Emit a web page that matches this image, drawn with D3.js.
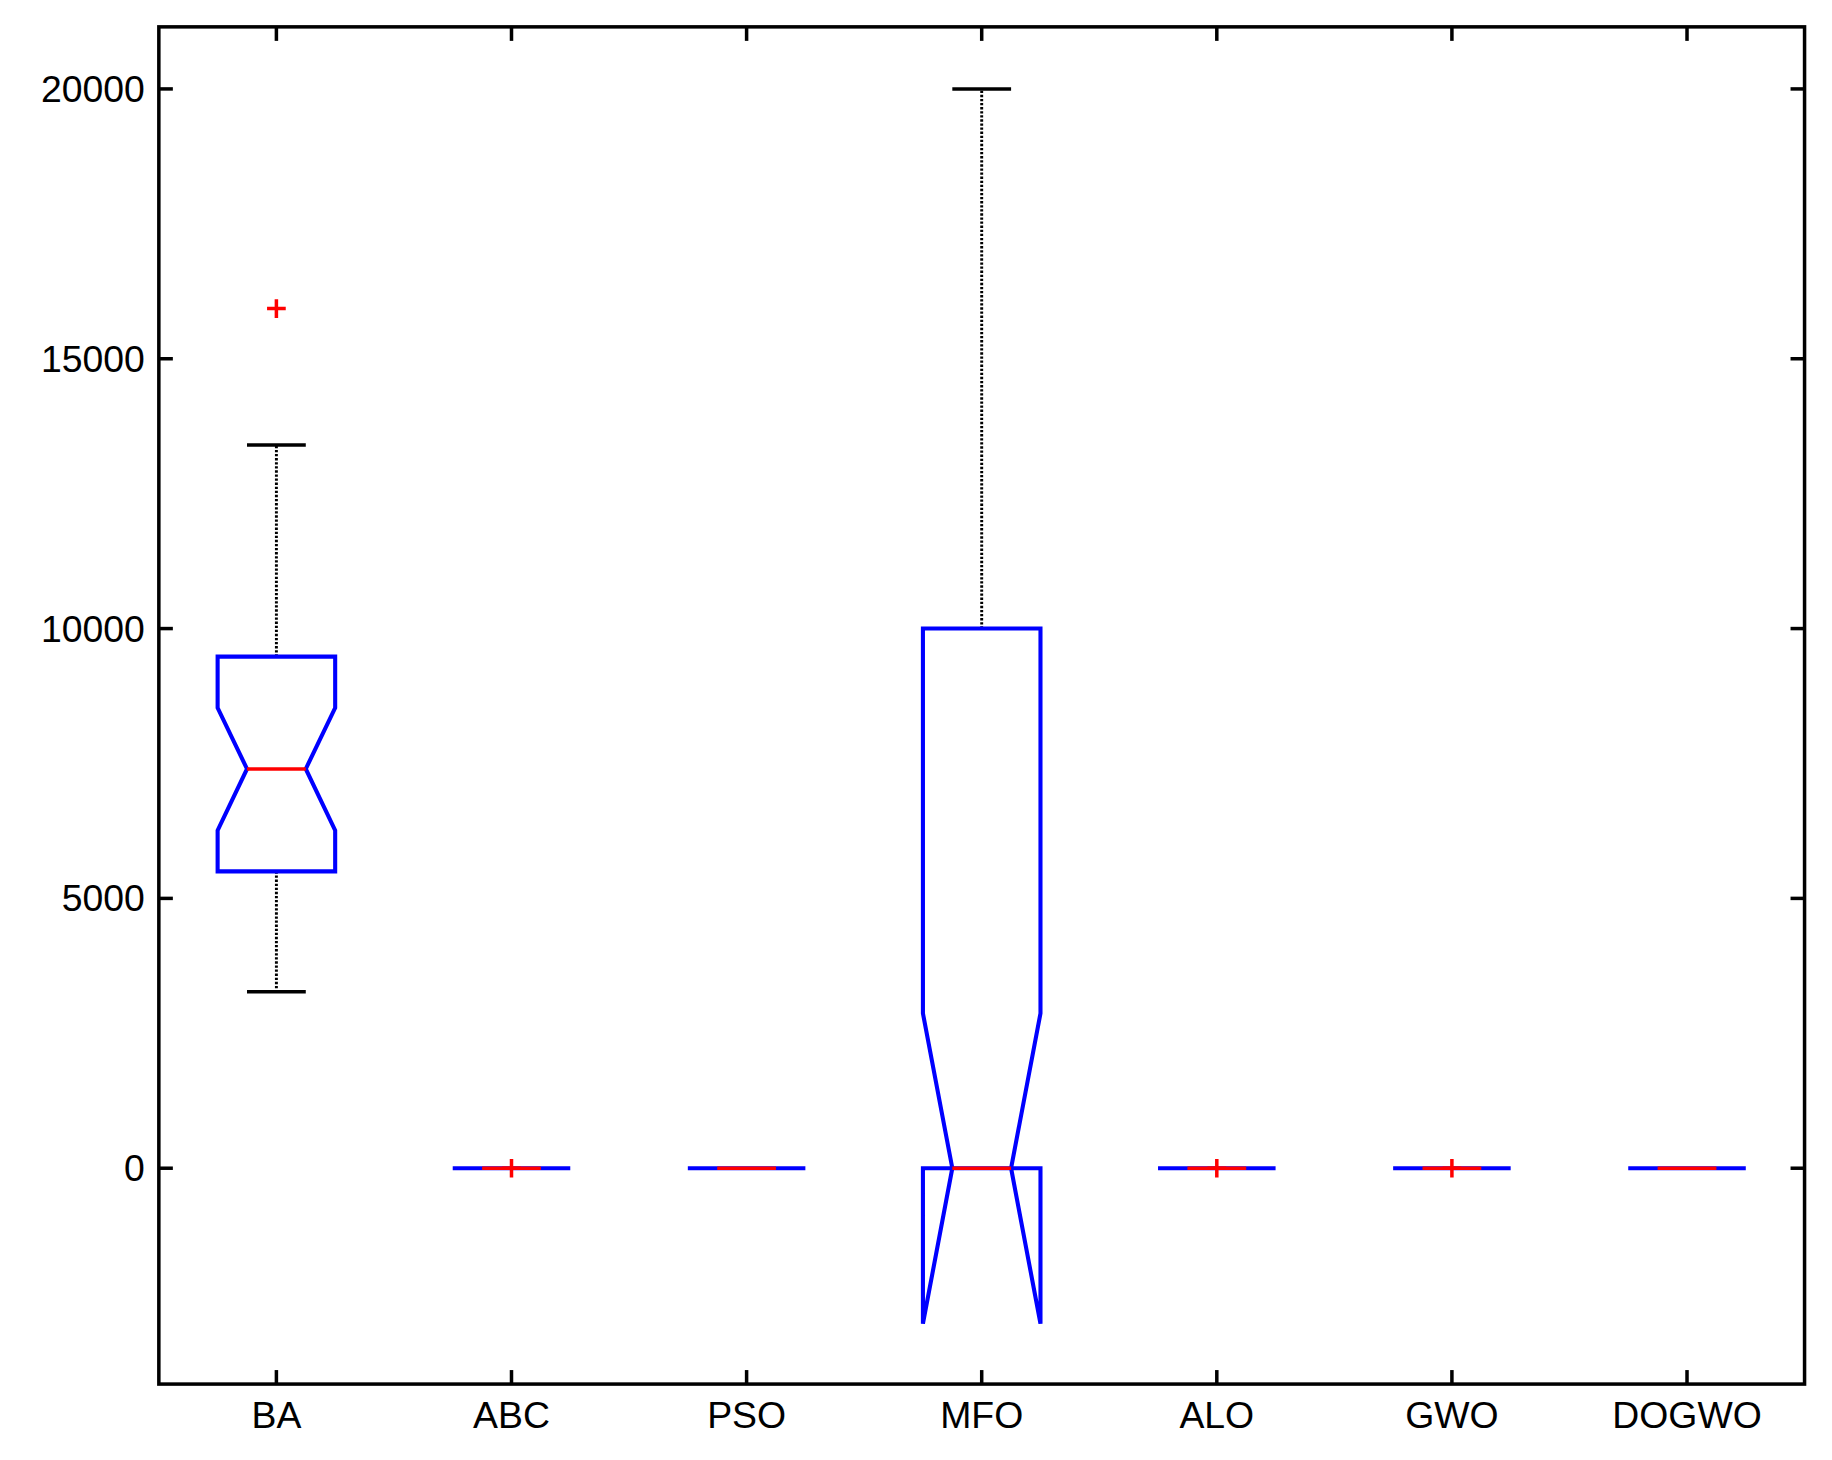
<!DOCTYPE html><html><head><meta charset="utf-8"><script src="https://cdn.jsdelivr.net/npm/d3@7"></script>
<style>body{margin:0;background:#fff}</style></head><body><svg id="c"></svg><script>
const categories=["BA","ABC","PSO","MFO","ALO","GWO","DOGWO"];
const q1=[5500,0,0,0,0,0,0];
const med=[7400,0,0,0,0,0,0];
const q3=[9480,0,0,10000,0,0,0];
const notchLo=[6260,0,0,-2880,0,0,0];
const notchHi=[8530,0,0,2870,0,0,0];
const whiskLo=[3270,0,0,0,0,0,0];
const whiskHi=[13400,0,0,20000,0,0,0];
const outliers=[[15930],[0],[],[],[0],[0],[]];
const yTicks=[0,5000,10000,15000,20000];
const W=1560,H=1250,L=136,R=1545,T=23,B=1185;
const svg=d3.select("#c").attr("width",1832).attr("height",1460).attr("viewBox",`0 0 ${W} ${H}`).attr("preserveAspectRatio","xMinYMin meet");
const x=d3.scaleLinear().domain([0.5,7.5]).range([L,R]);
const y=d3.scaleLinear().domain([-4000,21150]).range([B,T]);
const bw=0.25,nw=0.125;
categories.forEach((c,i)=>{
  const cx=x(i+1),hw=x(i+1+bw)-cx,nhw=x(i+1+nw)-cx;
  if(whiskHi[i]>q3[i]){svg.append("line").attr("x1",cx).attr("x2",cx).attr("y1",y(q3[i])).attr("y2",y(whiskHi[i])).attr("stroke","#000").attr("stroke-width",2.5).attr("stroke-dasharray","2,1.5");
    svg.append("line").attr("x1",cx-nhw).attr("x2",cx+nhw).attr("y1",y(whiskHi[i])).attr("y2",y(whiskHi[i])).attr("stroke","#000").attr("stroke-width",3);}
  if(whiskLo[i]<q1[i]){svg.append("line").attr("x1",cx).attr("x2",cx).attr("y1",y(q1[i])).attr("y2",y(whiskLo[i])).attr("stroke","#000").attr("stroke-width",2.5).attr("stroke-dasharray","2,1.5");
    svg.append("line").attr("x1",cx-nhw).attr("x2",cx+nhw).attr("y1",y(whiskLo[i])).attr("y2",y(whiskLo[i])).attr("stroke","#000").attr("stroke-width",3);}
  const pts=[[cx-hw,y(q1[i])],[cx-hw,y(notchLo[i])],[cx-nhw,y(med[i])],[cx-hw,y(notchHi[i])],[cx-hw,y(q3[i])],[cx+hw,y(q3[i])],[cx+hw,y(notchHi[i])],[cx+nhw,y(med[i])],[cx+hw,y(notchLo[i])],[cx+hw,y(q1[i])]];
  svg.append("path").attr("d",d3.line()(pts)+"Z").attr("fill","none").attr("stroke","#0000ff").attr("stroke-width",3.5);
  svg.append("line").attr("x1",cx-nhw).attr("x2",cx+nhw).attr("y1",y(med[i])).attr("y2",y(med[i])).attr("stroke","#ff0000").attr("stroke-width",3);
  outliers[i].forEach(v=>{svg.append("path").attr("d",`M${cx-8},${y(v)}H${cx+8}M${cx},${y(v)-8}V${y(v)+8}`).attr("stroke","#ff0000").attr("stroke-width",3);});
});
const ax=svg.append("g").attr("stroke","#000").attr("stroke-width",3);
ax.append("rect").attr("x",L).attr("y",T).attr("width",R-L).attr("height",B-T).attr("fill","none");
yTicks.forEach(v=>{ax.append("line").attr("x1",L).attr("x2",L+12).attr("y1",y(v)).attr("y2",y(v));ax.append("line").attr("x1",R).attr("x2",R-12).attr("y1",y(v)).attr("y2",y(v));
  svg.append("text").attr("x",L-12).attr("y",y(v)).attr("dy","0.35em").attr("text-anchor","end").attr("font-family","Liberation Sans, Arial").attr("font-size",32).text(v);});
categories.forEach((c,i)=>{const cx=x(i+1);ax.append("line").attr("x1",cx).attr("x2",cx).attr("y1",B).attr("y2",B-12);ax.append("line").attr("x1",cx).attr("x2",cx).attr("y1",T).attr("y2",T+12);
  svg.append("text").attr("x",cx).attr("y",B+38).attr("text-anchor","middle").attr("font-family","Liberation Sans, Arial").attr("font-size",32).text(c);});
</script></body></html>
